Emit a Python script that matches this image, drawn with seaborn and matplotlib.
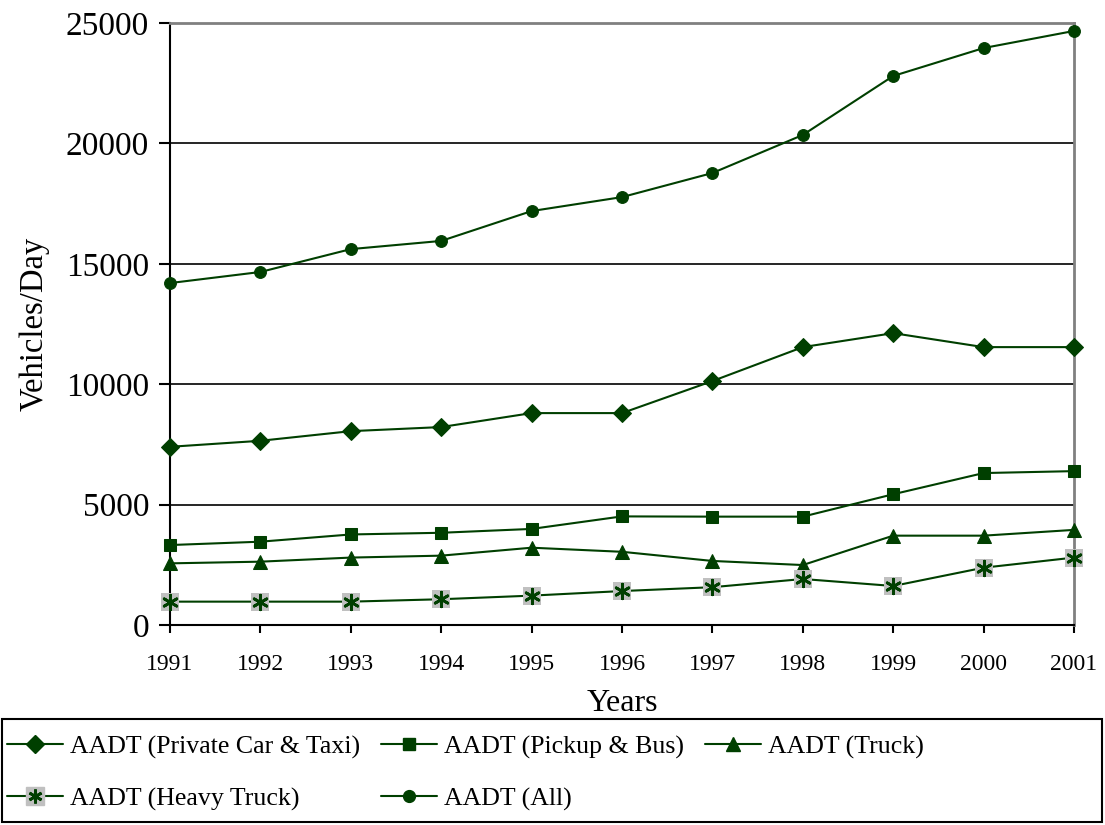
import matplotlib
matplotlib.use("Agg")
import matplotlib.pyplot as plt
import seaborn as sns
from matplotlib.lines import Line2D
from matplotlib.patches import Rectangle
from matplotlib.legend_handler import HandlerTuple

# data
years = [1991, 1992, 1993, 1994, 1995, 1996, 1997, 1998, 1999, 2000, 2001]
private_car = [7400, 7650, 8050, 8220, 8800, 8800, 10130, 11540, 12120, 11540, 11540]
pickup_bus = [3320, 3460, 3760, 3830, 3990, 4510, 4500, 4500, 5430, 6310, 6390]
truck = [2560, 2630, 2800, 2880, 3210, 3040, 2660, 2490, 3710, 3710, 3950]
heavy_truck = [970, 970, 970, 1070, 1220, 1410, 1570, 1910, 1620, 2380, 2800]
all_vehicles = [14200, 14660, 15610, 15950, 17190, 17770, 18770, 20350, 22800, 23960, 24670]

y_ticks = [0, 5000, 10000, 15000, 20000, 25000]

GREEN = "#003f00"
GRAY = "#c0c0c0"
LW = 1.5

sns.set_style("white")
plt.rcParams["font.family"] = ["Liberation Serif", "DejaVu Serif"]
plt.rcParams["text.color"] = "black"
plt.rcParams["axes.labelcolor"] = "black"
plt.rcParams["xtick.color"] = "black"
plt.rcParams["ytick.color"] = "black"

fig = plt.figure(figsize=(11.05, 8.25), dpi=100)
ax = fig.add_axes([170 / 1105, 200 / 825, 904 / 1105, 602 / 825])

series = [
    (private_car, "D", 9),
    (pickup_bus, "s", 8.5),
    (truck, "^", 10.5),
    (all_vehicles, "o", 8.5),
]
for vals, mk, ms in series:
    sns.lineplot(x=years, y=vals, ax=ax, color=GREEN, lw=LW, marker=mk,
                 markersize=ms, markeredgecolor=GREEN, markerfacecolor=GREEN,
                 clip_on=False, zorder=3)

# heavy truck: line, grey square, asterisk on top
sns.lineplot(x=years, y=heavy_truck, ax=ax, color=GREEN, lw=LW, zorder=3)
sns.scatterplot(x=years, y=heavy_truck, ax=ax, marker="s", s=170, color=GRAY,
                edgecolor="none", zorder=4, clip_on=False)
sns.scatterplot(x=years, y=heavy_truck, ax=ax, marker=(6, 2, 0), s=110,
                color=GREEN, linewidth=2, zorder=5, clip_on=False)

ax.set_xlim(years[0], years[-1])
ax.set_ylim(0, 25000)
ax.set_xticks(years)
ax.set_xticklabels([str(y) for y in years])
ax.set_yticks(y_ticks)
ax.set_yticklabels([str(v) for v in y_ticks])
ax.margins(0)

ax.set_axisbelow(True)
ax.yaxis.grid(True, color="black", lw=1.2)
ax.xaxis.grid(False)
for side in ["top", "right"]:
    ax.spines[side].set_color("#808080")
    ax.spines[side].set_linewidth(2)
for side in ["left", "bottom"]:
    ax.spines[side].set_color("black")
    ax.spines[side].set_linewidth(1.5)

ax.tick_params(axis="y", direction="out", length=8, width=1.5, pad=7,
               labelsize=24, left=True, color="black", labelcolor="black")
ax.tick_params(axis="x", direction="out", length=6, width=1.5, pad=15,
               labelsize=17, bottom=True, color="black", labelcolor="black")

ax.set_xlabel("Years", fontsize=23, labelpad=10, color="black")
ax.set_ylabel("Vehicles/Day", fontsize=23.5, labelpad=12, color="black")

# legend, filled row by row
def mk_handle(mk, ms):
    return Line2D([], [], color=GREEN, lw=LW, marker=mk, markersize=ms,
                  markerfacecolor=GREEN, markeredgecolor=GREEN)

h_private = mk_handle("D", 9)
h_pickup = mk_handle("s", 8.5)
h_truck = mk_handle("^", 10.5)
h_all = mk_handle("o", 8.5)
h_heavy = (Line2D([], [], color=GREEN, lw=LW, marker="s", markersize=13,
                  markerfacecolor=GRAY, markeredgecolor=GRAY),
           Line2D([], [], color=GREEN, lw=0, marker=(6, 2, 0), markersize=10,
                  markeredgewidth=2, markeredgecolor=GREEN))

handles = [h_private, h_heavy, h_pickup, h_all, h_truck]
labels = ["AADT (Private Car & Taxi)", "AADT (Heavy Truck)",
          "AADT (Pickup & Bus)", "AADT (All)", "AADT (Truck)"]
leg = fig.legend(handles, labels, loc="center left",
                 bbox_to_anchor=(7 / 1105, 0.063),
                 ncol=3, frameon=False, fontsize=18.6, handlelength=2.15,
                 handletextpad=0.3, columnspacing=0.8, labelspacing=1.1,
                 borderpad=0, borderaxespad=0,
                 handler_map={tuple: HandlerTuple(ndivide=1)})
for t in leg.get_texts():
    t.set_color("black")

fig.add_artist(Rectangle((0.002, 0.004), 0.995, 0.1245, transform=fig.transFigure,
                         fill=False, edgecolor="black", lw=1.5))

fig.savefig("out.png", dpi=100)
